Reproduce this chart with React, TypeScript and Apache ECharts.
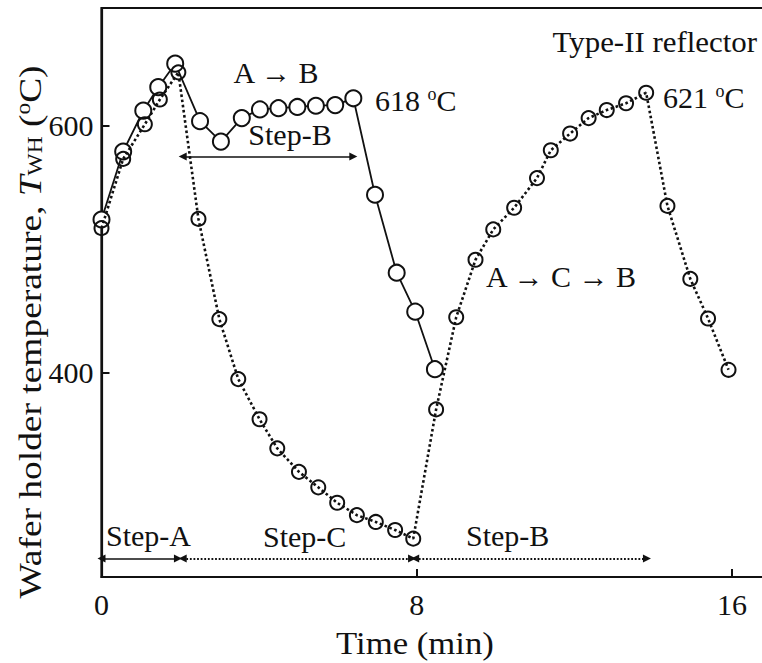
import React, { useEffect, useRef } from "react";
import * as echarts from "echarts";

// ---- data ----
// A -> B sequence (solid line)
const solidTime = [0.0, 0.55, 1.06, 1.44, 1.87, 2.5, 3.03, 3.56, 4.02, 4.49, 4.97, 5.44, 5.93, 6.39, 6.94, 7.49, 7.96, 8.46];
const solidTemp = [524, 579, 612, 631, 650, 603.5, 587, 606, 613, 614, 615, 616, 616.5, 622, 544, 481, 449.5, 403];
// A -> C -> B sequence (dotted line)
const dottedTime = [0.0, 0.55, 1.1, 1.48, 1.95, 2.46, 2.99, 3.47, 4.01, 4.46, 5.01, 5.5, 5.98, 6.48, 6.96, 7.45, 7.91, 8.49, 9.0, 9.49, 9.94, 10.47, 11.05, 11.4, 11.89, 12.36, 12.82, 13.31, 13.82, 14.36, 14.94, 15.39, 15.91];
const dottedTemp = [517, 573, 601, 621, 643, 524.5, 443.5, 395, 362.5, 339, 320, 307.5, 295, 285, 279.5, 273, 266, 370.5, 445, 491.5, 516, 533.5, 557.5, 580, 593.5, 606, 612.5, 618, 626.5, 535, 476, 444, 402.5];

// step arrows: [startTime, endTime, temperature level]
const stepASpan = [0, 1.94, 250];
const stepCSpan = [2.06, 7.88, 250];
const stepBBottomSpan = [7.96, 13.84, 250];
const stepBTopSpan = [2.06, 6.39, 575];

const xTicks = [0, 8, 16];
const yTicks = [400, 600];
const xRange = [0, 16.81];
const yRange = [235, 695];

const FONT = "'Liberation Serif', 'Times New Roman', Times, serif";
const INK = "#111";

function pairs(xs: number[], ys: number[]) {
  return xs.map((x, i) => [x, ys[i]]);
}
function span(s: number[]) {
  return [{ coord: [s[0], s[2]] }, { coord: [s[1], s[2]] }];
}

const richBase = (size: number) => ({
  n: { fontSize: size, fontFamily: FONT, fill: INK, color: INK },
  s: { fontSize: Math.round(size * 0.6), fontFamily: FONT, fill: INK, color: INK, verticalAlign: "top" },
});

function label(x: number, y: number, text: string, align = "left", size = 30, scaleX = 1) {
  return {
    type: "text",
    x,
    y,
    scaleX,
    silent: true,
    style: {
      text,
      rich: richBase(size),
      fontSize: size,
      fontFamily: FONT,
      fill: INK,
      align,
      textAlign: align,
      verticalAlign: "middle",
      textVerticalAlign: "middle",
    },
  };
}

export default function App() {
  const ref = useRef<HTMLDivElement>(null);

  useEffect(() => {
    if (!ref.current) return;
    const chart = echarts.init(ref.current, null, { renderer: "svg" });
    const option: any = {
      animation: false,
      backgroundColor: "#fff",
      grid: {
        left: 101.5,
        top: 8,
        right: 6,
        bottom: 86,
        show: true,
        borderColor: INK,
        borderWidth: 2.2,
        containLabel: false,
      },
      xAxis: {
        type: "value",
        min: xRange[0],
        max: xRange[1],
        splitLine: { show: false },
        axisLine: { show: true, lineStyle: { color: INK, width: 2.2 } },
        axisTick: { show: true, inside: true, length: 8, customValues: xTicks, lineStyle: { color: INK, width: 2 } },
        axisLabel: { customValues: xTicks, fontSize: 30, fontFamily: FONT, color: INK, margin: 12 },
      },
      yAxis: {
        type: "value",
        min: yRange[0],
        max: yRange[1],
        splitLine: { show: false },
        axisLine: { show: true, lineStyle: { color: INK, width: 2.2 } },
        axisTick: { show: true, inside: true, length: 8, customValues: yTicks, lineStyle: { color: INK, width: 2 } },
        axisLabel: { customValues: yTicks, fontSize: 30, fontFamily: FONT, color: INK, margin: 8 },
      },
      series: [
        {
          name: "A → B",
          type: "line",
          data: pairs(solidTime, solidTemp),
          symbol: "circle",
          symbolSize: 16,
          showAllSymbol: true,
          lineStyle: { color: INK, width: 1.8, type: "solid" },
          itemStyle: { color: "#fff", borderColor: INK, borderWidth: 2 },
          emphasis: { disabled: true },
          silent: true,
          z: 2,
          markLine: {
            silent: true,
            symbol: ["triangle", "triangle"],
            symbolSize: 8,
            label: { show: false },
            lineStyle: { color: INK, width: 1.6, type: "solid" },
            emphasis: { disabled: true },
            data: [span(stepASpan), span(stepBTopSpan)],
          },
        },
        {
          name: "A → C → B",
          type: "line",
          data: pairs(dottedTime, dottedTemp),
          symbol: "circle",
          symbolSize: 14,
          showAllSymbol: true,
          lineStyle: { color: INK, width: 2.6, type: [2.6, 2.6] },
          itemStyle: { color: "rgba(255,255,255,0)", borderColor: INK, borderWidth: 2 },
          emphasis: { disabled: true },
          silent: true,
          z: 3,
          markLine: {
            silent: true,
            symbol: ["triangle", "triangle"],
            symbolSize: 8,
            label: { show: false },
            lineStyle: { color: INK, width: 1.8, type: [1.8, 1.8] },
            emphasis: { disabled: true },
            data: [span(stepCSpan), span(stepBBottomSpan)],
          },
        },
      ],
      graphic: [
        label(757, 42, "{n|Type-II reflector}", "right", 30, 1.03),
        label(276, 72, "{n|A → B}", "center"),
        label(290, 134, "{n|Step-B}", "center"),
        label(375, 100, "{n|618 }{s|o}{n|C}", "left"),
        label(663, 97, "{n|621 }{s|o}{n|C}", "left"),
        label(561, 276, "{n|A → C → B}", "center"),
        label(106, 535, "{n|Step-A}", "left"),
        label(263, 536, "{n|Step-C}", "left"),
        label(466, 535, "{n|Step-B}", "left"),
        label(415, 644, "{n|Time (min)}", "center", 31, 1.12),
        {
          type: "text",
          x: 30,
          y: 332,
          rotation: Math.PI / 2,
          scaleX: 1.17,
          silent: true,
          style: {
            text: "{n|Wafer holder temperature, }{i|T}{sub|WH}{n| (}{sup|o}{n|C)}",
            rich: {
              n: { fontSize: 32, fontFamily: FONT, fill: INK, color: INK },
              i: { fontSize: 32, fontFamily: FONT, fontStyle: "italic", fill: INK, color: INK },
              sub: { fontSize: 20, fontFamily: FONT, fill: INK, color: INK, verticalAlign: "bottom" },
              sup: { fontSize: 20, fontFamily: FONT, fill: INK, color: INK, verticalAlign: "top" },
            },
            fontSize: 32,
            fontFamily: FONT,
            fill: INK,
            align: "center",
            textAlign: "center",
            verticalAlign: "middle",
            textVerticalAlign: "middle",
          },
        },
      ],
    };
    chart.setOption(option);
    return () => chart.dispose();
  }, []);

  return (
    <div
      ref={ref}
      style={{ position: "absolute", left: 0, top: 0, width: 770, height: 663, background: "#fff" }}
    />
  );
}
